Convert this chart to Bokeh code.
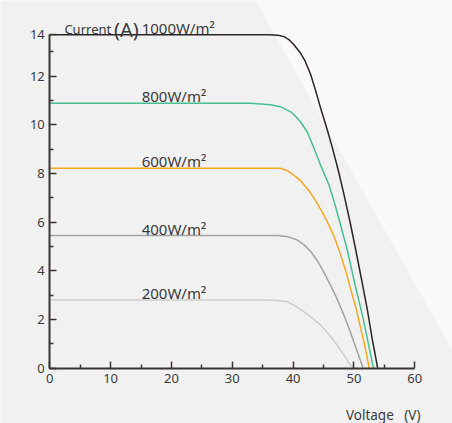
from bokeh.plotting import figure
from bokeh.models import LinearAxis, FixedTicker, Range1d
from bokeh.embed import file_html
from bokeh.resources import INLINE
from bokeh.core.properties import value

# ---- data (Voltage V, Current A) ----
v_1000 = [0, 36.0, 37.5, 38.5, 39.3, 40.1, 41.2, 42.0, 42.9, 43.7, 44.5, 45.6, 46.4, 47.4, 48.3, 49.4, 50.3, 51.2, 52.2, 53.0, 53.9]
i_1000 = [13.7, 13.7, 13.68, 13.62, 13.5, 13.3, 12.95, 12.6, 12.05, 11.4, 10.7, 9.8, 9.1, 8.15, 7.2, 5.95, 4.85, 3.7, 2.4, 1.2, 0]

v_800 = [0, 33.0, 36.3, 37.9, 39.6, 40.4, 41.2, 42.3, 43.4, 44.5, 45.9, 46.9, 47.8, 48.9, 50.2, 51.5, 53.2]
i_800 = [10.88, 10.88, 10.82, 10.74, 10.53, 10.35, 10.12, 9.71, 9.05, 8.34, 7.52, 6.7, 5.88, 4.85, 3.4, 2.05, 0]

v_600 = [0, 37.9, 39.0, 40.1, 41.2, 41.8, 42.8, 43.7, 44.8, 45.9, 46.9, 47.8, 48.7, 49.5, 50.3, 51.0, 51.8, 52.5]
i_600 = [8.21, 8.21, 8.12, 7.93, 7.71, 7.52, 7.22, 6.88, 6.4, 5.86, 5.3, 4.65, 3.95, 3.2, 2.5, 1.75, 0.9, 0]

v_400 = [0, 37.5, 38.5, 39.6, 40.7, 41.8, 42.9, 44.0, 45.0, 46.1, 47.2, 48.3, 49.4, 50.4, 51.5]
i_400 = [5.45, 5.45, 5.42, 5.36, 5.26, 5.06, 4.79, 4.4, 3.96, 3.43, 2.86, 2.2, 1.49, 0.78, 0]

v_200 = [0, 35.5, 37.3, 39.0, 40.4, 41.8, 43.2, 44.5, 45.9, 47.2, 48.3, 49.4, 50.0]
i_200 = [2.79, 2.79, 2.77, 2.73, 2.55, 2.31, 2.05, 1.77, 1.38, 0.95, 0.55, 0.12, 0]

series_labels = ["1000W/m\u00b2", "800W/m\u00b2", "600W/m\u00b2", "400W/m\u00b2", "200W/m\u00b2"]
series_colors = ["#2a2526", "#46c08f", "#f6a623", "#a3a3a3", "#cdcdcd"]

x_ticks = [0, 10, 20, 30, 40, 50, 60]
x_minor = [5, 15, 25, 35, 45, 55]
y_ticks = [0, 2, 4, 6, 8, 10, 12, 13.7]
y_minor = [1, 3, 5, 7, 9, 11, 13]
y_tick_labels = {13.7: "14"}

FONT = "Noto Sans"
TXT = "#3a3a3a"
AX = "#3b3434"

p = figure(width=452, height=423, output_backend="svg", toolbar_location=None,
           x_range=Range1d(-8.105, 66.20), y_range=Range1d(-2.281, 15.105),
           x_axis_location=None, y_axis_location=None, min_border=0,
           background_fill_color="#f1f1f1", border_fill_color="#f1f1f1",
           outline_line_color=None)
p.grid.visible = False

# decorative lighter background area
p.patch(x=[33.6, 67.0, 67.0], y=[15.2, 15.2, 0.365], color="#f9f9f9", line_color=None)

xaxis = LinearAxis(fixed_location=0, bounds=(0, 60),
                   ticker=FixedTicker(ticks=x_ticks, minor_ticks=x_minor))
yaxis = LinearAxis(fixed_location=0, bounds=(0, 13.7),
                   ticker=FixedTicker(ticks=y_ticks, minor_ticks=y_minor),
                   major_label_overrides=y_tick_labels)
for ax in (xaxis, yaxis):
    ax.axis_line_color = AX
    ax.axis_line_width = 2
    ax.major_tick_line_color = AX
    ax.major_tick_line_width = 1.5
    ax.minor_tick_line_color = AX
    ax.minor_tick_line_width = 1.5
    ax.major_tick_in = 7
    ax.major_tick_out = 0
    ax.minor_tick_in = 4
    ax.minor_tick_out = 0
    ax.major_label_text_font = FONT
    ax.major_label_text_font_size = "13px"
    ax.major_label_text_color = TXT
xaxis.major_label_standoff = 6
yaxis.major_label_standoff = 5
p.add_layout(xaxis, "below")
p.add_layout(yaxis, "left")

curves = [(v_1000, i_1000), (v_800, i_800), (v_600, i_600), (v_400, i_400), (v_200, i_200)]
for (vv, ii), col in zip(curves, series_colors):
    p.line(vv, ii, line_color=col, line_width=1.5)

# series labels just above each plateau
label_v = 15.1
p.text(x=[label_v] * 5, y=[c[1][0] + 0.28 for c in curves], text=series_labels,
       text_font=value(FONT), text_font_size=value("15px"), text_color=TXT,
       text_baseline="alphabetic", text_align="left")

# axis titles
p.text(x=[2.4], y=[13.93], text=["Current"], text_font=value(FONT),
       text_font_size=value("13px"), text_color=TXT, text_baseline="alphabetic")
p.text(x=[10.55], y=[13.93], text=["(A)"], text_font=value(FONT),
       text_font_size=value("20px"), text_color=TXT, text_baseline="alphabetic")
p.text(x=[60.94], y=[-1.95], text=["Voltage\u00a0\u00a0\u00a0(V)"], text_font=value(FONT),
       text_font_size=value("13.5px"), text_color=TXT, text_baseline="alphabetic",
       text_align="right")

open("out.html", "w").write(file_html(p, INLINE))
